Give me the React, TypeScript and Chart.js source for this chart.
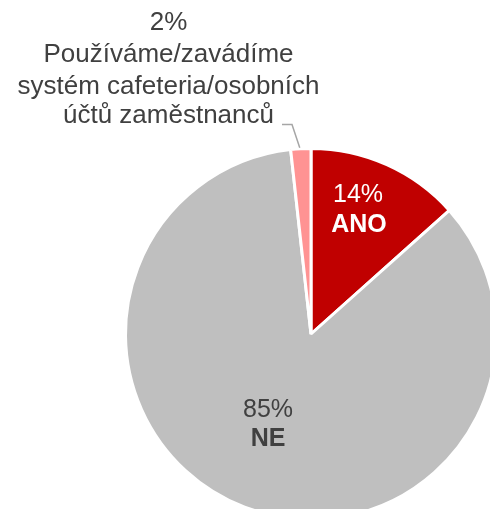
import React, { useEffect, useRef } from "react";
import { Chart, registerables } from "chart.js";

Chart.register(...registerables);

const categories = ["ANO", "NE", "Používáme/zavádíme systém cafeteria/osobních účtů zaměstnanců"];
const values = [13.4, 84.85, 1.75];
const percentLabels = ["14%", "85%", "2%"];
const colors = ["#C00000", "#BFBFBF", "#FF9393"];

const FONT = '"Liberation Sans", Arial, sans-serif';

const labelPlugin = {
  id: "sliceLabels",
  afterDraw(chart: any) {
    const ctx = chart.ctx;
    const meta = chart.getDatasetMeta(0);
    ctx.save();
    ctx.textAlign = "center";
    ctx.textBaseline = "alphabetic";

    // ANO
    ctx.fillStyle = "#FFFFFF";
    ctx.font = `25px ${FONT}`;
    ctx.fillText(percentLabels[0], 358, 202);
    ctx.font = `bold 25px ${FONT}`;
    ctx.fillText(categories[0], 359, 232);

    // NE
    ctx.fillStyle = "#404040";
    ctx.font = `25px ${FONT}`;
    ctx.fillText(percentLabels[1], 268, 417);
    ctx.font = `bold 25px ${FONT}`;
    ctx.fillText(categories[1], 268, 446);

    // small slice, outside label
    ctx.fillStyle = "#404040";
    ctx.font = `26px ${FONT}`;
    const lines = [percentLabels[2], "Používáme/zavádíme", "systém cafeteria/osobních", "účtů zaměstnanců"];
    const ys = [30, 62, 94, 123];
    lines.forEach((t, i) => ctx.fillText(t, 168.5, ys[i]));

    // leader line
    const arc = meta.data[2];
    if (arc) {
      const p = arc.getProps(["x", "y", "startAngle", "endAngle", "outerRadius"], true);
      const mid = (p.startAngle + p.endAngle) / 2;
      const ex = p.x + Math.cos(mid) * (p.outerRadius + 1);
      const ey = p.y + Math.sin(mid) * (p.outerRadius + 1);
      ctx.strokeStyle = "#A6A6A6";
      ctx.lineWidth = 1.5;
      ctx.beginPath();
      ctx.moveTo(282, 124.5);
      ctx.lineTo(292, 124.5);
      ctx.lineTo(ex - 1, ey);
      ctx.stroke();
    }
    ctx.restore();
  },
};

export default function App() {
  const ref = useRef<HTMLCanvasElement>(null);
  useEffect(() => {
    const canvas = ref.current!;
    const chart = new Chart(canvas, {
      type: "pie",
      data: {
        labels: categories,
        datasets: [
          {
            data: values,
            backgroundColor: colors,
            borderColor: "#FFFFFF",
            borderWidth: 3,
          },
        ],
      },
      options: {
        responsive: false,
        animation: false,
        layout: { padding: { left: 124, top: 147, right: 22, bottom: 19 } },
        plugins: {
          legend: { display: false },
          tooltip: { enabled: false },
        },
      },
      plugins: [labelPlugin],
    });
    return () => chart.destroy();
  }, []);
  return (
    <div
      style={{
        position: "absolute",
        left: 0,
        top: 0,
        width: 490,
        height: 509,
        overflow: "hidden",
        background: "#FFFFFF",
      }}
    >
      <canvas ref={ref} width={520} height={540} style={{ display: "block" }} />
    </div>
  );
}
